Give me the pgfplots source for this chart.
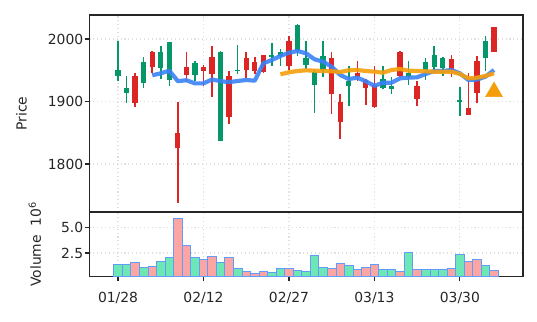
\documentclass[border=0pt]{standalone}
\usepackage{fontspec}
\setmainfont{DejaVu Sans}
\usepackage{pgfplots}
\usepackage{pgfplotstable}
\pgfplotsset{compat=1.18}
\definecolor{cup}{HTML}{059669}
\definecolor{cdown}{HTML}{DC2626}
\definecolor{vup}{HTML}{6EE7B7}
\definecolor{vdown}{HTML}{FCA5A5}
\definecolor{vedge}{HTML}{3B82F6}
\definecolor{maone}{HTML}{3B82F6}
\definecolor{matwo}{HTML}{F59E0B}
\definecolor{frame}{HTML}{262626}

\pgfplotstableread{
x o h l c v
0 1941.5 1996.5 1933.5 1950.0 1.35
1 1914.0 1941.5 1898.0 1922.3 1.35
3 1929.8 1970.7 1922.3 1963.8 1.05
5 1953.7 1988.3 1936.2 1979.8 1.68
6 1935.1 1995.7 1925.5 1994.7 2.04
9 1942.6 1964.4 1933.5 1961.2 2.04
12 1836.2 1981.4 1836.2 1979.8 1.55
14 1948.0 1991.0 1944.0 1951.0 0.95
18 1970.7 1993.1 1957.4 1974.5 0.56
19 1973.4 1984.0 1957.4 1979.8 0.95
21 1981.0 2024.0 1973.0 2023.0 0.76
22 1958.5 1996.3 1952.1 1969.7 0.69
23 1926.6 1952.1 1881.9 1946.8 2.27
24 1951.1 1996.3 1939.9 1973.4 1.05
27 1924.5 1956.4 1892.0 1933.5 1.25
31 1921.8 1956.4 1920.2 1936.2 0.86
32 1920.2 1938.8 1912.2 1925.5 0.86
34 1938.8 1964.4 1927.1 1945.2 2.57
36 1951.1 1969.1 1935.1 1963.8 0.86
37 1954.8 1988.3 1947.9 1975.0 0.86
38 1953.7 1970.7 1941.5 1969.1 0.86
40 1898.9 1922.9 1876.6 1902.7 2.37
43 1969.7 2005.3 1949.5 1997.3 1.25
}\up

\pgfplotstableread{
x o h l c v
2 1941.5 1945.2 1891.5 1898.0 1.58
4 1979.8 1980.0 1945.7 1955.9 1.15
7 1849.0 1899.0 1738.0 1825.0 5.89
8 1954.8 1978.7 1930.9 1942.6 3.22
10 1954.8 1958.5 1925.5 1949.5 1.84
11 1970.7 1988.3 1906.9 1944.1 2.14
13 1941.5 1949.5 1864.4 1875.0 2.04
15 1969.7 1978.7 1937.2 1950.5 0.66
16 1963.8 1970.7 1944.1 1948.4 0.53
17 1974.5 1975.0 1945.7 1947.9 0.69
20 1997.3 2005.3 1951.1 1956.4 0.95
25 1969.7 1978.7 1879.3 1911.2 0.95
26 1898.9 1912.2 1840.4 1867.0 1.48
28 1945.2 1964.4 1933.0 1938.8 0.86
29 1934.0 1936.0 1895.0 1922.0 1.05
30 1926.0 1956.5 1890.0 1890.5 1.35
33 1979.8 1980.0 1938.8 1941.5 0.69
35 1925.5 1933.5 1892.0 1903.2 0.86
39 1968.1 1974.5 1938.8 1951.1 0.95
41 1889.0 1946.0 1878.0 1879.0 1.64
42 1965.4 1972.3 1897.9 1913.3 1.84
44 2018.6 2018.6 1978.7 1978.7 0.76
}\down

\pgfplotstableread{
x m
4 1941.9
5 1945.1
6 1949.3
7 1932.5
8 1934.0
9 1929.0
10 1929.0
11 1935.2
12 1932.5
13 1931.0
14 1932.8
15 1934.4
16 1933.3
17 1961.1
18 1966.4
19 1972.8
20 1978.1
21 1980.8
22 1977.1
23 1967.5
24 1963.7
25 1955.7
26 1942.4
27 1936.0
28 1938.1
29 1932.3
30 1925.0
31 1930.1
32 1930.1
33 1937.1
34 1938.1
35 1938.7
36 1944.0
37 1948.8
38 1948.8
39 1950.4
40 1945.1
41 1934.4
42 1935.0
43 1939.7
44 1950.4
}\mafive

\pgfplotstableread{
x m
19 1943.5
20 1946.7
21 1948.8
22 1949.9
23 1949.3
24 1948.8
25 1948.3
26 1947.2
27 1949.9
28 1950.4
29 1948.8
30 1947.7
31 1946.1
32 1950.4
33 1952.0
34 1949.3
35 1948.8
36 1948.3
37 1947.7
38 1947.7
39 1947.7
40 1944.0
41 1937.1
42 1938.1
43 1940.8
44 1945.1
}\matwenty

\pgfplotsset{
  base/.style={
    scale only axis, width=312.12pt,
    xmin=-3.34, xmax=47.39,
    axis line style={line width=1.2pt, frame},
    tick align=outside, major tick length=3.5pt,
    xtick pos=bottom, ytick pos=left,
    tick style={line width=0.8pt, color=frame},
    grid=major,
    major grid style={gray!25, line width=0.8pt, dash pattern=on 0.8pt off 2pt},
    tick label style={font=\fontsize{10}{12}\selectfont, text=frame},
    yticklabel style={xshift=2.5pt},
    xticklabel style={yshift=-4.5pt},
    label style={font=\fontsize{10}{12}\selectfont, text=frame},
    xtick={0,10,20,30,40},
    /pgf/number format/assume math mode=true,
  },
}

\begin{document}
\begin{tikzpicture}
\begin{axis}[base, name=price, at={(0,0)}, anchor=north west,
  height=141.84pt, ymin=1723.2, ymax=2038.4, ytick={1800,1900,2000},
  xticklabels={}, xtick style={draw=none},
  yticklabel style={/pgf/number format/set thousands separator={}},
  ylabel={Price}, ylabel style={at={(axis description cs:-0.157,0.5)}, anchor=center}]
\addplot[cup, line width=1.1pt, quiver={u=0, v=\thisrow{h}-\thisrow{l}}] table[x=x, y=l] {\up};
\addplot[cup, line width=3.8pt, quiver={u=0, v=\thisrow{c}-\thisrow{o}}] table[x=x, y=o] {\up};
\addplot[cdown, line width=1.1pt, quiver={u=0, v=\thisrow{h}-\thisrow{l}}] table[x=x, y=l] {\down};
\addplot[cdown, line width=3.8pt, quiver={u=0, v=\thisrow{o}-\thisrow{c}}] table[x=x, y=c] {\down};
\addplot[maone, line width=3pt, opacity=0.9, line join=round] table[x=x, y=m] {\mafive};
\addplot[matwo, line width=3pt, opacity=0.9, line join=round] table[x=x, y=m] {\matwenty};
\addplot[only marks, mark=triangle*, mark size=7pt, color=matwo] coordinates {(44,1915.5)};
\end{axis}
\begin{axis}[base, at={(price.south west)}, anchor=north west,
  height=46.44pt, ymin=0.2, ymax=6.5, ytick={2.5,5.0},
  yticklabel style={/pgf/number format/.cd, fixed, fixed zerofill, precision=1},
  xticklabels={01/28,02/12,02/27,03/13,03/30},
  ylabel={Volume\ \ 10\textsuperscript{6}}, ylabel style={at={(axis description cs:-0.126,0.5)}, anchor=center}]
\addplot[ybar, bar width=1, bar shift=0pt, fill=vup, draw=vedge!80, line width=0.6pt] table[x=x, y=v] {\up};
\addplot[ybar, bar width=1, bar shift=0pt, fill=vdown, draw=vedge!80, line width=0.6pt] table[x=x, y=v] {\down};
\end{axis}
\pgfresetboundingbox
\path (-64.44pt,10.8pt) rectangle (322.2pt,-221.04pt);
\end{tikzpicture}
\end{document}
